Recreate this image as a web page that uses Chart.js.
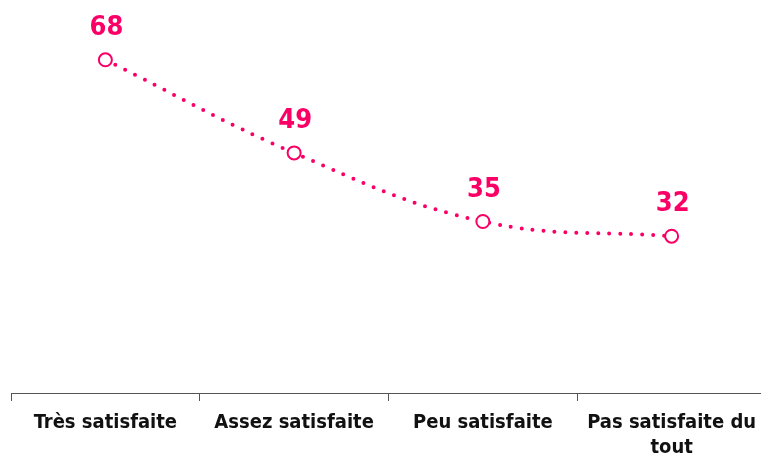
<!DOCTYPE html>
<html>
<head>
<meta charset="utf-8">
<script src="https://cdn.jsdelivr.net/npm/chart.js@4"></script>
<style>
  html, body { margin: 0; padding: 0; background: #fff; overflow: hidden; }
  #wrap { width: 770px; height: 457px; }
</style>
</head>
<body>
<div id="wrap"><canvas id="chart"></canvas></div>
<script>
// Data
const categories = ['Très satisfaite', 'Assez satisfaite', 'Peu satisfaite', ['Pas satisfaite du', 'tout']];
const values = [68, 49, 35, 32];
const yMin = 0;
const yMax = 80;

const pink = '#FA0066';

// Value labels above points
const valueLabels = {
    id: 'valueLabels',
    afterDatasetsDraw(chart) {
        const ctx = chart.ctx;
        const meta = chart.getDatasetMeta(0);
        ctx.save();
        ctx.fillStyle = pink;
        ctx.font = 'bold 27px "DejaVu Sans Condensed", "DejaVu Sans", sans-serif';
        ctx.textAlign = 'center';
        ctx.textBaseline = 'alphabetic';
        meta.data.forEach((pt, i) => {
            ctx.fillText(values[i], pt.x + 1, pt.y - 25);
        });
        ctx.restore();
    }
};

const ctx = document.getElementById('chart').getContext('2d');
new Chart(ctx, {
    type: 'line',
    data: {
        labels: categories,
        datasets: [{
            data: values,
            borderColor: pink,
            borderWidth: 4,
            borderDash: [0, 11],
            borderCapStyle: 'round',
            tension: 0.4,
            fill: false,
            pointRadius: 6.5,
            pointBorderWidth: 2,
            pointBorderColor: pink,
            pointBackgroundColor: '#fff'
        }]
    },
    options: {
        responsive: true,
        maintainAspectRatio: false,
        animation: false,
        layout: { autoPadding: false, padding: { left: 11, right: 4, top: 1, bottom: 0 } },
        plugins: {
            legend: { display: false },
            tooltip: { enabled: false }
        },
        scales: {
            x: {
                offset: true,
                afterFit: scale => { scale.height = 64; },
                grid: {
                    offset: true,
                    drawOnChartArea: false,
                    drawTicks: true,
                    tickLength: 8,
                    color: '#555'
                },
                border: { display: true, color: '#555', width: 1 },
                ticks: {
                    color: '#111',
                    padding: 9,
                    maxRotation: 0,
                    autoSkip: false,
                    font: { family: '"DejaVu Sans Condensed", "DejaVu Sans", sans-serif', weight: 'bold', size: 20, lineHeight: 1.25 }
                }
            },
            y: {
                display: false,
                min: yMin,
                max: yMax
            }
        }
    },
    plugins: [valueLabels]
});
</script>
</body>
</html>
